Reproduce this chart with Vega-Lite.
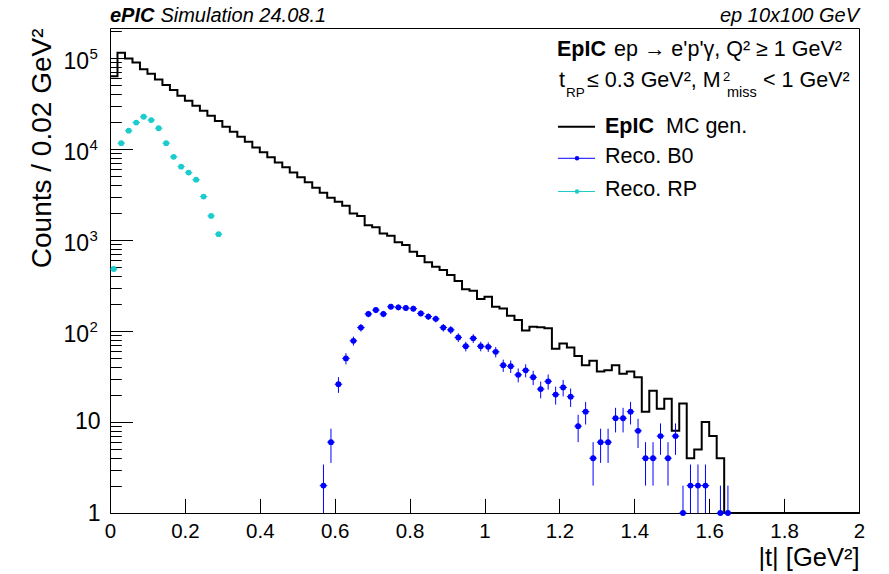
{
  "$schema": "https://vega.github.io/schema/vega-lite/v6.json",
  "width": 749,
  "height": 485,
  "autosize": {"type": "none"},
  "padding": {"left": 110, "top": 28, "right": 30, "bottom": 61},
  "background": "white",
  "config": {
    "view": {"stroke": "black", "strokeWidth": 1},
    "axis": {"domain": false, "grid": false},
    "font": "Liberation Sans"
  },
  "datasets": {
    "mc": [
      {"t":0.00,"n":63000},{"t":0.02,"n":114000},{"t":0.04,"n":99000},{"t":0.06,"n":89000},{"t":0.08,"n":75000},
      {"t":0.10,"n":67000},{"t":0.12,"n":58000},{"t":0.14,"n":50500},{"t":0.16,"n":44500},{"t":0.18,"n":38500},
      {"t":0.20,"n":34000},{"t":0.22,"n":29900},{"t":0.24,"n":26400},{"t":0.26,"n":23200},{"t":0.28,"n":20300},
      {"t":0.30,"n":17600},{"t":0.32,"n":15500},{"t":0.34,"n":13600},{"t":0.36,"n":12000},{"t":0.38,"n":10400},
      {"t":0.40,"n":9200},{"t":0.42,"n":8100},{"t":0.44,"n":7100},{"t":0.46,"n":6300},{"t":0.48,"n":5500},
      {"t":0.50,"n":4900},{"t":0.52,"n":4300},{"t":0.54,"n":3760},{"t":0.56,"n":3300},{"t":0.58,"n":2920},
      {"t":0.60,"n":2640},{"t":0.62,"n":2380},{"t":0.64,"n":1960},{"t":0.66,"n":1840},{"t":0.68,"n":1450},
      {"t":0.70,"n":1380},{"t":0.72,"n":1180},{"t":0.74,"n":1110},{"t":0.76,"n":942},{"t":0.78,"n":881},
      {"t":0.80,"n":744},{"t":0.82,"n":668},{"t":0.84,"n":569},{"t":0.86,"n":509},{"t":0.88,"n":468},
      {"t":0.90,"n":412},{"t":0.92,"n":355},{"t":0.94,"n":287},{"t":0.96,"n":277},{"t":0.98,"n":225},
      {"t":1.00,"n":238},{"t":1.02,"n":185},{"t":1.04,"n":177},{"t":1.06,"n":147},{"t":1.08,"n":132},
      {"t":1.10,"n":101},{"t":1.12,"n":111},{"t":1.14,"n":110},{"t":1.16,"n":107},{"t":1.18,"n":64},
      {"t":1.20,"n":73},{"t":1.22,"n":66},{"t":1.24,"n":53},{"t":1.26,"n":42},{"t":1.28,"n":47},
      {"t":1.30,"n":36},{"t":1.32,"n":37},{"t":1.34,"n":42},{"t":1.36,"n":34},{"t":1.38,"n":36},
      {"t":1.40,"n":31},{"t":1.42,"n":13},{"t":1.44,"n":22},{"t":1.46,"n":14},{"t":1.48,"n":18},
      {"t":1.50,"n":8},{"t":1.52,"n":16},{"t":1.54,"n":4},{"t":1.56,"n":5},{"t":1.58,"n":10},
      {"t":1.60,"n":7},{"t":1.62,"n":4},{"t":1.64,"n":0},{"t":1.66,"n":0},{"t":1.68,"n":0},
      {"t":1.70,"n":0},{"t":1.72,"n":0},{"t":1.74,"n":0},{"t":1.76,"n":0},{"t":1.78,"n":0},
      {"t":1.80,"n":0},{"t":1.82,"n":0},{"t":1.84,"n":0},{"t":1.86,"n":0},{"t":1.88,"n":0},
      {"t":1.90,"n":0},{"t":1.92,"n":0},{"t":1.94,"n":0},{"t":1.96,"n":0},{"t":1.98,"n":0},
      {"t":2.00,"n":0}
    ],
    "b0": [
      {"t":0.57,"n":2,"lo":0.586,"hi":3.414},{"t":0.59,"n":6,"lo":3.551,"hi":8.449},
      {"t":0.61,"n":26,"lo":20.90,"hi":31.10},{"t":0.63,"n":50,"lo":42.93,"hi":57.07},
      {"t":0.65,"n":78,"lo":69.17,"hi":86.83},{"t":0.67,"n":109,"lo":98.56,"hi":119.44},
      {"t":0.69,"n":154,"lo":141.59,"hi":166.41},{"t":0.71,"n":170,"lo":156.96,"hi":183.04},
      {"t":0.73,"n":154,"lo":141.59,"hi":166.41},{"t":0.75,"n":185,"lo":171.40,"hi":198.60},
      {"t":0.77,"n":182,"lo":168.51,"hi":195.49},{"t":0.79,"n":179,"lo":165.62,"hi":192.38},
      {"t":0.81,"n":176,"lo":162.73,"hi":189.27},{"t":0.83,"n":156,"lo":143.51,"hi":168.49},
      {"t":0.85,"n":144,"lo":132,"hi":156},{"t":0.87,"n":136,"lo":124.34,"hi":147.66},
      {"t":0.89,"n":109,"lo":98.56,"hi":119.44},{"t":0.91,"n":103,"lo":92.85,"hi":113.15},
      {"t":0.93,"n":85,"lo":75.78,"hi":94.22},{"t":0.95,"n":68,"lo":59.75,"hi":76.25},
      {"t":0.97,"n":83,"lo":73.89,"hi":92.11},{"t":0.99,"n":68,"lo":59.75,"hi":76.25},
      {"t":1.01,"n":67,"lo":58.81,"hi":75.19},{"t":1.03,"n":59,"lo":51.32,"hi":66.68},
      {"t":1.05,"n":42,"lo":35.52,"hi":48.48},{"t":1.07,"n":41,"lo":34.60,"hi":47.40},
      {"t":1.09,"n":33,"lo":27.26,"hi":38.74},{"t":1.11,"n":37,"lo":30.92,"hi":43.08},
      {"t":1.13,"n":31,"lo":25.43,"hi":36.57},{"t":1.15,"n":23,"lo":18.20,"hi":27.80},
      {"t":1.17,"n":28,"lo":22.71,"hi":33.29},{"t":1.19,"n":20,"lo":15.53,"hi":24.47},
      {"t":1.21,"n":24,"lo":19.10,"hi":28.90},{"t":1.23,"n":19,"lo":14.64,"hi":23.36},
      {"t":1.25,"n":9,"lo":6,"hi":12},{"t":1.27,"n":13,"lo":9.39,"hi":16.61},
      {"t":1.29,"n":4,"lo":2,"hi":6},{"t":1.31,"n":6,"lo":3.551,"hi":8.449},
      {"t":1.33,"n":6,"lo":3.551,"hi":8.449},{"t":1.35,"n":11,"lo":7.683,"hi":14.317},
      {"t":1.37,"n":11,"lo":7.683,"hi":14.317},{"t":1.39,"n":13,"lo":9.39,"hi":16.61},
      {"t":1.41,"n":8,"lo":5.172,"hi":10.828},{"t":1.43,"n":4,"lo":2,"hi":6},
      {"t":1.45,"n":4,"lo":2,"hi":6},{"t":1.47,"n":7,"lo":4.354,"hi":9.646},
      {"t":1.49,"n":4,"lo":2,"hi":6},{"t":1.51,"n":7,"lo":4.354,"hi":9.646},
      {"t":1.53,"n":1,"lo":0,"hi":2},{"t":1.55,"n":2,"lo":0.586,"hi":3.414},
      {"t":1.57,"n":2,"lo":0.586,"hi":3.414},{"t":1.59,"n":2,"lo":0.586,"hi":3.414},
      {"t":1.63,"n":1,"lo":0,"hi":2},{"t":1.65,"n":1,"lo":0,"hi":2}
    ],
    "rp": [
      {"t":0.01,"n":480},{"t":0.03,"n":11600},{"t":0.05,"n":15900},{"t":0.07,"n":19500},
      {"t":0.09,"n":22600},{"t":0.11,"n":20800},{"t":0.13,"n":16900},{"t":0.15,"n":11600},
      {"t":0.17,"n":8200},{"t":0.19,"n":6400},{"t":0.21,"n":5500},{"t":0.23,"n":4600},
      {"t":0.25,"n":3000},{"t":0.27,"n":1840},{"t":0.29,"n":1160}
    ]
  },
  "layer": [
    {
      "data": {"name": "mc"},
      "mark": {"type": "line", "interpolate": "step-after", "color": "black", "strokeWidth": 2},
      "encoding": {
        "x": {
          "field": "t", "type": "quantitative",
          "scale": {"domain": [0, 2], "nice": false, "zero": false},
          "axis": {
            "values": [0,0.05,0.1,0.15,0.2,0.25,0.3,0.35,0.4,0.45,0.5,0.55,0.6,0.65,0.7,0.75,0.8,0.85,0.9,0.95,1,1.05,1.1,1.15,1.2,1.25,1.3,1.35,1.4,1.45,1.5,1.55,1.6,1.65,1.7,1.75,1.8,1.85,1.9,1.95,2],
            "title": "|t| [GeV²]",
            "titleFont": "Liberation Sans", "titleFontSize": 25.5, "titleFontWeight": "normal", "titleColor": "black",
            "titleX": 749, "titleY": 52, "titleAlign": "right", "titleBaseline": "alphabetic", "titleAngle": 0,
            "labelExpr": "abs(datum.value*5 - round(datum.value*5)) < 0.001 ? format(datum.value, '~g') : ''",
            "labelFont": "Liberation Sans", "labelFontSize": 20.5, "labelColor": "black",
            "labelPadding": 22.6, "labelFlush": false, "labelOverlap": false, "labelBound": false,
            "tickSize": {"condition": {"test": "abs(datum.value*5 - round(datum.value*5)) < 0.001", "value": -14.6}, "value": -7.3},
            "tickColor": "black", "tickWidth": 1, "domain": false, "grid": false
          }
        },
        "y": {
          "field": "n", "type": "quantitative",
          "scale": {"type": "log", "domain": [1, 213600], "nice": false, "clamp": true},
          "axis": {
            "values": [1,2,3,4,5,6,7,8,9,10,20,30,40,50,60,70,80,90,100,200,300,400,500,600,700,800,900,1000,2000,3000,4000,5000,6000,7000,8000,9000,10000,20000,30000,40000,50000,60000,70000,80000,90000,100000,200000],
            "title": "Counts / 0.02 GeV²",
            "titleFont": "Liberation Sans", "titleFontSize": 28, "titleFontWeight": "normal", "titleColor": "black",
            "titleX": -60, "titleY": 0, "titleAlign": "right", "titleBaseline": "alphabetic", "titleAngle": -90,
            "labelExpr": "datum.value == 1 ? '1' : datum.value == 10 ? '10' : ''",
            "labelFont": "Liberation Sans", "labelFontSize": 23, "labelColor": "black",
            "labelPadding": 32.5, "labelOverlap": false, "labelBound": false, "labelFlush": false,
            "tickSize": {"condition": {"test": "abs(log(datum.value)/LN10 - round(log(datum.value)/LN10)) < 0.001", "value": -22.5}, "value": -11.3},
            "tickColor": "black", "tickWidth": 1, "domain": false, "grid": false
          }
        }
      }
    },
    {
      "data": {"name": "b0"},
      "mark": {"type": "rule", "color": "#0000ff", "strokeWidth": 1},
      "encoding": {
        "x": {"field": "t", "type": "quantitative"},
        "y": {"field": "lo", "type": "quantitative"},
        "y2": {"field": "hi"}
      }
    },
    {
      "data": {"name": "b0"},
      "mark": {"type": "tick", "orient": "horizontal", "size": 7.5, "thickness": 1, "color": "#0000ff", "opacity": 1},
      "encoding": {
        "x": {"field": "t", "type": "quantitative"},
        "y": {"field": "n", "type": "quantitative"}
      }
    },
    {
      "data": {"name": "b0"},
      "mark": {"type": "point", "shape": "circle", "filled": true, "size": 34, "color": "#0000ff", "opacity": 1},
      "encoding": {
        "x": {"field": "t", "type": "quantitative"},
        "y": {"field": "n", "type": "quantitative"}
      }
    },
    {
      "data": {"name": "rp"},
      "mark": {"type": "tick", "orient": "horizontal", "size": 7.5, "thickness": 1, "color": "#1ccccc", "opacity": 1},
      "encoding": {
        "x": {"field": "t", "type": "quantitative"},
        "y": {"field": "n", "type": "quantitative"}
      }
    },
    {
      "data": {"name": "rp"},
      "mark": {"type": "point", "shape": "circle", "filled": true, "size": 34, "color": "#1ccccc", "opacity": 1},
      "encoding": {
        "x": {"field": "t", "type": "quantitative"},
        "y": {"field": "n", "type": "quantitative"}
      }
    },
    {
      "data": {"values": [{}]},
      "mark": {"type": "text", "text": "10", "font": "Liberation Sans", "fontSize": 23, "align": "right", "baseline": "middle", "color": "black", "dx": -21, "dy": 4.5},
      "encoding": {"x": {"datum": 0, "type": "quantitative"}, "y": {"datum": 100, "type": "quantitative"}}
    },
    {
      "data": {"values": [{}]},
      "mark": {"type": "text", "text": "2", "font": "Liberation Sans", "fontSize": 15, "align": "left", "baseline": "alphabetic", "color": "black", "dx": -20.5, "dy": 1.5},
      "encoding": {"x": {"datum": 0, "type": "quantitative"}, "y": {"datum": 100, "type": "quantitative"}}
    },
    {
      "data": {"values": [{}]},
      "mark": {"type": "text", "text": "10", "font": "Liberation Sans", "fontSize": 23, "align": "right", "baseline": "middle", "color": "black", "dx": -21, "dy": 4.5},
      "encoding": {"x": {"datum": 0, "type": "quantitative"}, "y": {"datum": 1000, "type": "quantitative"}}
    },
    {
      "data": {"values": [{}]},
      "mark": {"type": "text", "text": "3", "font": "Liberation Sans", "fontSize": 15, "align": "left", "baseline": "alphabetic", "color": "black", "dx": -20.5, "dy": 1.5},
      "encoding": {"x": {"datum": 0, "type": "quantitative"}, "y": {"datum": 1000, "type": "quantitative"}}
    },
    {
      "data": {"values": [{}]},
      "mark": {"type": "text", "text": "10", "font": "Liberation Sans", "fontSize": 23, "align": "right", "baseline": "middle", "color": "black", "dx": -21, "dy": 4.5},
      "encoding": {"x": {"datum": 0, "type": "quantitative"}, "y": {"datum": 10000, "type": "quantitative"}}
    },
    {
      "data": {"values": [{}]},
      "mark": {"type": "text", "text": "4", "font": "Liberation Sans", "fontSize": 15, "align": "left", "baseline": "alphabetic", "color": "black", "dx": -20.5, "dy": 1.5},
      "encoding": {"x": {"datum": 0, "type": "quantitative"}, "y": {"datum": 10000, "type": "quantitative"}}
    },
    {
      "data": {"values": [{}]},
      "mark": {"type": "text", "text": "10", "font": "Liberation Sans", "fontSize": 23, "align": "right", "baseline": "middle", "color": "black", "dx": -21, "dy": 4.5},
      "encoding": {"x": {"datum": 0, "type": "quantitative"}, "y": {"datum": 100000, "type": "quantitative"}}
    },
    {
      "data": {"values": [{}]},
      "mark": {"type": "text", "text": "5", "font": "Liberation Sans", "fontSize": 15, "align": "left", "baseline": "alphabetic", "color": "black", "dx": -20.5, "dy": 1.5},
      "encoding": {"x": {"datum": 0, "type": "quantitative"}, "y": {"datum": 100000, "type": "quantitative"}}
    },
    {
      "data": {"values": [{}]},
      "mark": {"type": "text", "text": "ePIC", "font": "Liberation Sans", "fontSize": 20, "fontWeight": "bold", "fontStyle": "italic", "align": "left", "baseline": "alphabetic", "color": "black", "dy": -6.5},
      "encoding": {"x": {"datum": 0, "type": "quantitative"}, "y": {"datum": 213600, "type": "quantitative"}}
    },
    {
      "data": {"values": [{}]},
      "mark": {"type": "text", "text": "Simulation 24.08.1", "font": "Liberation Sans", "fontSize": 20, "fontStyle": "italic", "align": "left", "baseline": "alphabetic", "color": "black", "dy": -6.5},
      "encoding": {"x": {"datum": 0.13458, "type": "quantitative"}, "y": {"datum": 213600, "type": "quantitative"}}
    },
    {
      "data": {"values": [{}]},
      "mark": {"type": "text", "text": "ep 10x100 GeV", "font": "Liberation Sans", "fontSize": 20, "fontStyle": "italic", "align": "right", "baseline": "alphabetic", "color": "black", "dy": -6.5},
      "encoding": {"x": {"datum": 2, "type": "quantitative"}, "y": {"datum": 213600, "type": "quantitative"}}
    },
    {
      "data": {"values": [{}]},
      "mark": {"type": "text", "text": "EpIC", "font": "Liberation Sans", "fontSize": 21.5, "fontWeight": "bold", "align": "left", "baseline": "alphabetic", "color": "black"},
      "encoding": {"x": {"datum": 1.19359, "type": "quantitative"}, "y": {"datum": 103870, "type": "quantitative"}}
    },
    {
      "data": {"values": [{}]},
      "mark": {"type": "text", "text": "ep → e'p'γ, Q² ≥ 1 GeV²", "font": "Liberation Sans", "fontSize": 21.5, "align": "left", "baseline": "alphabetic", "color": "black"},
      "encoding": {"x": {"datum": 1.34579, "type": "quantitative"}, "y": {"datum": 103870, "type": "quantitative"}}
    },
    {
      "data": {"values": [{}]},
      "mark": {"type": "text", "text": "t", "font": "Liberation Sans", "fontSize": 21.5, "align": "left", "baseline": "alphabetic", "color": "black"},
      "encoding": {"x": {"datum": 1.19893, "type": "quantitative"}, "y": {"datum": 48020, "type": "quantitative"}}
    },
    {
      "data": {"values": [{}]},
      "mark": {"type": "text", "text": "RP", "font": "Liberation Sans", "fontSize": 13.5, "align": "left", "baseline": "alphabetic", "color": "black"},
      "encoding": {"x": {"datum": 1.21762, "type": "quantitative"}, "y": {"datum": 37570, "type": "quantitative"}}
    },
    {
      "data": {"values": [{}]},
      "mark": {"type": "text", "text": "≤ 0.3 GeV², M", "font": "Liberation Sans", "fontSize": 21.5, "align": "left", "baseline": "alphabetic", "color": "black"},
      "encoding": {"x": {"datum": 1.2737, "type": "quantitative"}, "y": {"datum": 48020, "type": "quantitative"}}
    },
    {
      "data": {"values": [{}]},
      "mark": {"type": "text", "text": "2", "font": "Liberation Sans", "fontSize": 13, "align": "left", "baseline": "alphabetic", "color": "black"},
      "encoding": {"x": {"datum": 1.63685, "type": "quantitative"}, "y": {"datum": 55870, "type": "quantitative"}}
    },
    {
      "data": {"values": [{}]},
      "mark": {"type": "text", "text": "miss", "font": "Liberation Sans", "fontSize": 14.5, "align": "left", "baseline": "alphabetic", "color": "black"},
      "encoding": {"x": {"datum": 1.64753, "type": "quantitative"}, "y": {"datum": 37570, "type": "quantitative"}}
    },
    {
      "data": {"values": [{}]},
      "mark": {"type": "text", "text": "< 1 GeV²", "font": "Liberation Sans", "fontSize": 21.5, "align": "left", "baseline": "alphabetic", "color": "black"},
      "encoding": {"x": {"datum": 1.74366, "type": "quantitative"}, "y": {"datum": 48020, "type": "quantitative"}}
    },
    {
      "data": {"values": [{}]},
      "mark": {"type": "rule", "color": "black", "strokeWidth": 2},
      "encoding": {"x": {"datum": 1.19626, "type": "quantitative"}, "x2": {"datum": 1.29506}, "y": {"datum": 17580, "type": "quantitative"}}
    },
    {
      "data": {"values": [{}]},
      "mark": {"type": "text", "text": "EpIC", "font": "Liberation Sans", "fontSize": 21.5, "fontWeight": "bold", "align": "left", "baseline": "middle", "color": "black"},
      "encoding": {"x": {"datum": 1.32176, "type": "quantitative"}, "y": {"datum": 17450, "type": "quantitative"}}
    },
    {
      "data": {"values": [{}]},
      "mark": {"type": "text", "text": "MC gen.", "font": "Liberation Sans", "fontSize": 21.5, "align": "left", "baseline": "middle", "color": "black"},
      "encoding": {"x": {"datum": 1.48465, "type": "quantitative"}, "y": {"datum": 17450, "type": "quantitative"}}
    },
    {
      "data": {"values": [{}]},
      "mark": {"type": "rule", "color": "#0000ff", "strokeWidth": 1},
      "encoding": {"x": {"datum": 1.19626, "type": "quantitative"}, "x2": {"datum": 1.29506}, "y": {"datum": 7904, "type": "quantitative"}}
    },
    {
      "data": {"values": [{}]},
      "mark": {"type": "point", "shape": "circle", "filled": true, "size": 20, "color": "#0000ff", "opacity": 1},
      "encoding": {"x": {"datum": 1.247, "type": "quantitative"}, "y": {"datum": 7904, "type": "quantitative"}}
    },
    {
      "data": {"values": [{}]},
      "mark": {"type": "text", "text": "Reco. B0", "font": "Liberation Sans", "fontSize": 21.5, "align": "left", "baseline": "middle", "color": "black"},
      "encoding": {"x": {"datum": 1.32176, "type": "quantitative"}, "y": {"datum": 8066, "type": "quantitative"}}
    },
    {
      "data": {"values": [{}]},
      "mark": {"type": "rule", "color": "#1ccccc", "strokeWidth": 1},
      "encoding": {"x": {"datum": 1.19626, "type": "quantitative"}, "x2": {"datum": 1.29506}, "y": {"datum": 3412, "type": "quantitative"}}
    },
    {
      "data": {"values": [{}]},
      "mark": {"type": "point", "shape": "circle", "filled": true, "size": 20, "color": "#1ccccc", "opacity": 1},
      "encoding": {"x": {"datum": 1.247, "type": "quantitative"}, "y": {"datum": 3412, "type": "quantitative"}}
    },
    {
      "data": {"values": [{}]},
      "mark": {"type": "text", "text": "Reco. RP", "font": "Liberation Sans", "fontSize": 21.5, "align": "left", "baseline": "middle", "color": "black"},
      "encoding": {"x": {"datum": 1.32176, "type": "quantitative"}, "y": {"datum": 3543, "type": "quantitative"}}
    }
  ]
}
